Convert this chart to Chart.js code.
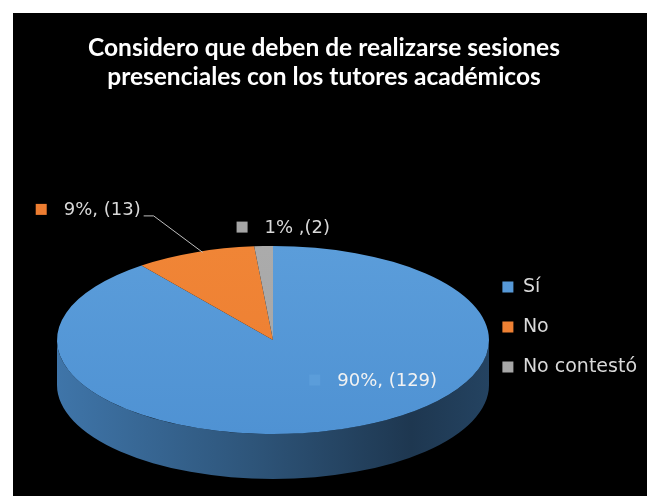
<!DOCTYPE html>
<html lang="es">
<head>
<meta charset="utf-8">
<script src="https://cdn.jsdelivr.net/npm/chart.js@4.4.1/dist/chart.umd.min.js"></script>
<style>
  html, body { margin: 0; padding: 0; background: #fff; }
  #wrap { position: relative; width: 647px; height: 496px; }
</style>
</head>
<body>
<div id="wrap"><canvas id="grafica" width="647" height="496"></canvas></div>
<script>
/* ── Datos ── */
const categorias  = ['Sí', 'No', 'No contestó'];
const respuestas  = [129, 13, 2];
const etiquetas   = ['90%, (129)', '9%, (13)', '1% ,(2)'];
const titulo      = ['Considero que deben de realizarse sesiones', 'presenciales con los tutores académicos'];

/* ── Estilo ── */
const colores      = ['#4f92d3', '#ed7d31', '#a5a5a5'];
const coloresClaro = ['#5b9dda', '#f08536', '#ababab'];
const ELIPSE = { cx: 273, cy: 340, rx: 216, ry: 94, grosor: 45 };
// posición de cada etiqueta: factor radial sobre el ángulo medio + desplazamiento
const factorEtiq = [0.45, 1, 1];
const despEtiq   = [[5, 0], [-159, -43], [-27, -19]];
const FUENTE = '"DejaVu Sans", sans-serif';

function oscurecer(hex, f) {
  const n = parseInt(hex.slice(1), 16);
  const r = Math.round(((n >> 16) & 255) * f);
  const g = Math.round(((n >> 8) & 255) * f);
  const b = Math.round((n & 255) * f);
  return `rgb(${r},${g},${b})`;
}

/* ── Fondo negro ── */
const fondo = {
  id: 'fondo',
  beforeDraw(chart) {
    const c = chart.ctx;
    c.save();
    c.fillStyle = '#000';
    c.fillRect(13, 13, chart.width - 13, chart.height - 13);
    c.restore();
  }
};

/* ── Pastel 3D: lateral + aplanado ── */
const pastel3d = {
  id: 'pastel3d',
  beforeDatasetsDraw(chart) {
    const arcs = chart.getDatasetMeta(0).data;
    if (!arcs.length) return;
    const c = chart.ctx;
    const { cx, cy, rx, ry, grosor } = ELIPSE;

    c.save();
    arcs.forEach((a, i) => {
      const g = c.createLinearGradient(cx - rx, 0, cx + rx, 0);
      g.addColorStop(0,    oscurecer(colores[i], 0.80));
      g.addColorStop(0.45, oscurecer(colores[i], 0.58));
      g.addColorStop(0.82, oscurecer(colores[i], 0.38));
      g.addColorStop(1,    oscurecer(colores[i], 0.46));
      for (let k = -1; k <= 1; k++) {
        const lo = Math.max(a.startAngle, 2 * Math.PI * k);
        const hi = Math.min(a.endAngle, Math.PI + 2 * Math.PI * k);
        if (hi <= lo) continue;
        c.beginPath();
        c.ellipse(cx, cy, rx, ry, 0, lo, hi, false);
        c.lineTo(cx + rx * Math.cos(hi), cy + ry * Math.sin(hi) + grosor);
        c.ellipse(cx, cy + grosor, rx, ry, 0, hi, lo, true);
        c.closePath();
        c.fillStyle = g;
        c.fill();
      }
    });
    c.restore();

    const { x, y, outerRadius: R } = arcs[0];
    c.save();
    c.translate(cx, cy);
    c.scale(rx / R, ry / R);
    c.translate(-x, -y);
  },
  afterDatasetsDraw(chart) {
    chart.ctx.restore();
  }
};

/* ── Etiquetas de datos ── */
const etiquetasDatos = {
  id: 'etiquetasDatos',
  afterDraw(chart) {
    const arcs = chart.getDatasetMeta(0).data;
    const c = chart.ctx;
    const { cx, cy, rx, ry } = ELIPSE;
    c.save();
    c.font = `18px ${FUENTE}`;
    c.textBaseline = 'middle';
    arcs.forEach((a, i) => {
      const m = (a.startAngle + a.endAngle) / 2;
      const f = factorEtiq[i];
      const px = cx + rx * f * Math.cos(m);
      const py = cy + ry * f * Math.sin(m);
      const x0 = px + despEtiq[i][0];
      const y0 = py + despEtiq[i][1];
      c.fillStyle = i === 0 ? '#5b9dda' : colores[i];
      c.fillRect(x0, y0 - 5.5, 11, 11);
      c.fillStyle = i === 0 ? '#f2f2f2' : '#d9d9d9';
      c.fillText(etiquetas[i], x0 + 28, y0 + 1);
      if (i === 1) {
        // línea guía hacia el borde de la rebanada
        const w = c.measureText(etiquetas[i]).width;
        c.strokeStyle = '#bfbfbf';
        c.lineWidth = 1;
        c.beginPath();
        c.moveTo(x0 + 28 + w + 3, y0 + 6.5);
        c.lineTo(x0 + 28 + w + 13, y0 + 6.5);
        c.lineTo(px + 8, py);
        c.stroke();
      }
    });
    c.restore();
  }
};

new Chart(document.getElementById('grafica'), {
  type: 'pie',
  data: {
    labels: categorias,
    datasets: [{
      data: respuestas,
      backgroundColor: (ctx) => {
        const i = ctx.dataIndex;
        const area = ctx.chart.chartArea;
        if (!area) return colores[i];
        const g = ctx.chart.ctx.createLinearGradient(0, area.top, 0, area.bottom);
        g.addColorStop(0, coloresClaro[i]);
        g.addColorStop(1, colores[i]);
        return g;
      },
      borderWidth: 0,
      clip: false
    }]
  },
  options: {
    responsive: false,
    animation: false,
    events: [],
    layout: { padding: { left: 1, right: 0, bottom: 0, top: 0 } },
    plugins: {
      title: {
        display: true,
        text: titulo,
        color: '#ffffff',
        font: { family: 'Lato, sans-serif', size: 24.5, weight: 'bold', lineHeight: 1.18 },
        padding: { top: 34, bottom: 66 }
      },
      legend: {
        position: 'right',
        fullSize: false,
        labels: {
          color: '#d9d9d9',
          font: { family: FUENTE, size: 19 },
          boxWidth: 11,
          boxHeight: 11,
          padding: 21
        }
      },
      tooltip: { enabled: false }
    }
  },
  plugins: [fondo, pastel3d, etiquetasDatos]
});
</script>
</body>
</html>
